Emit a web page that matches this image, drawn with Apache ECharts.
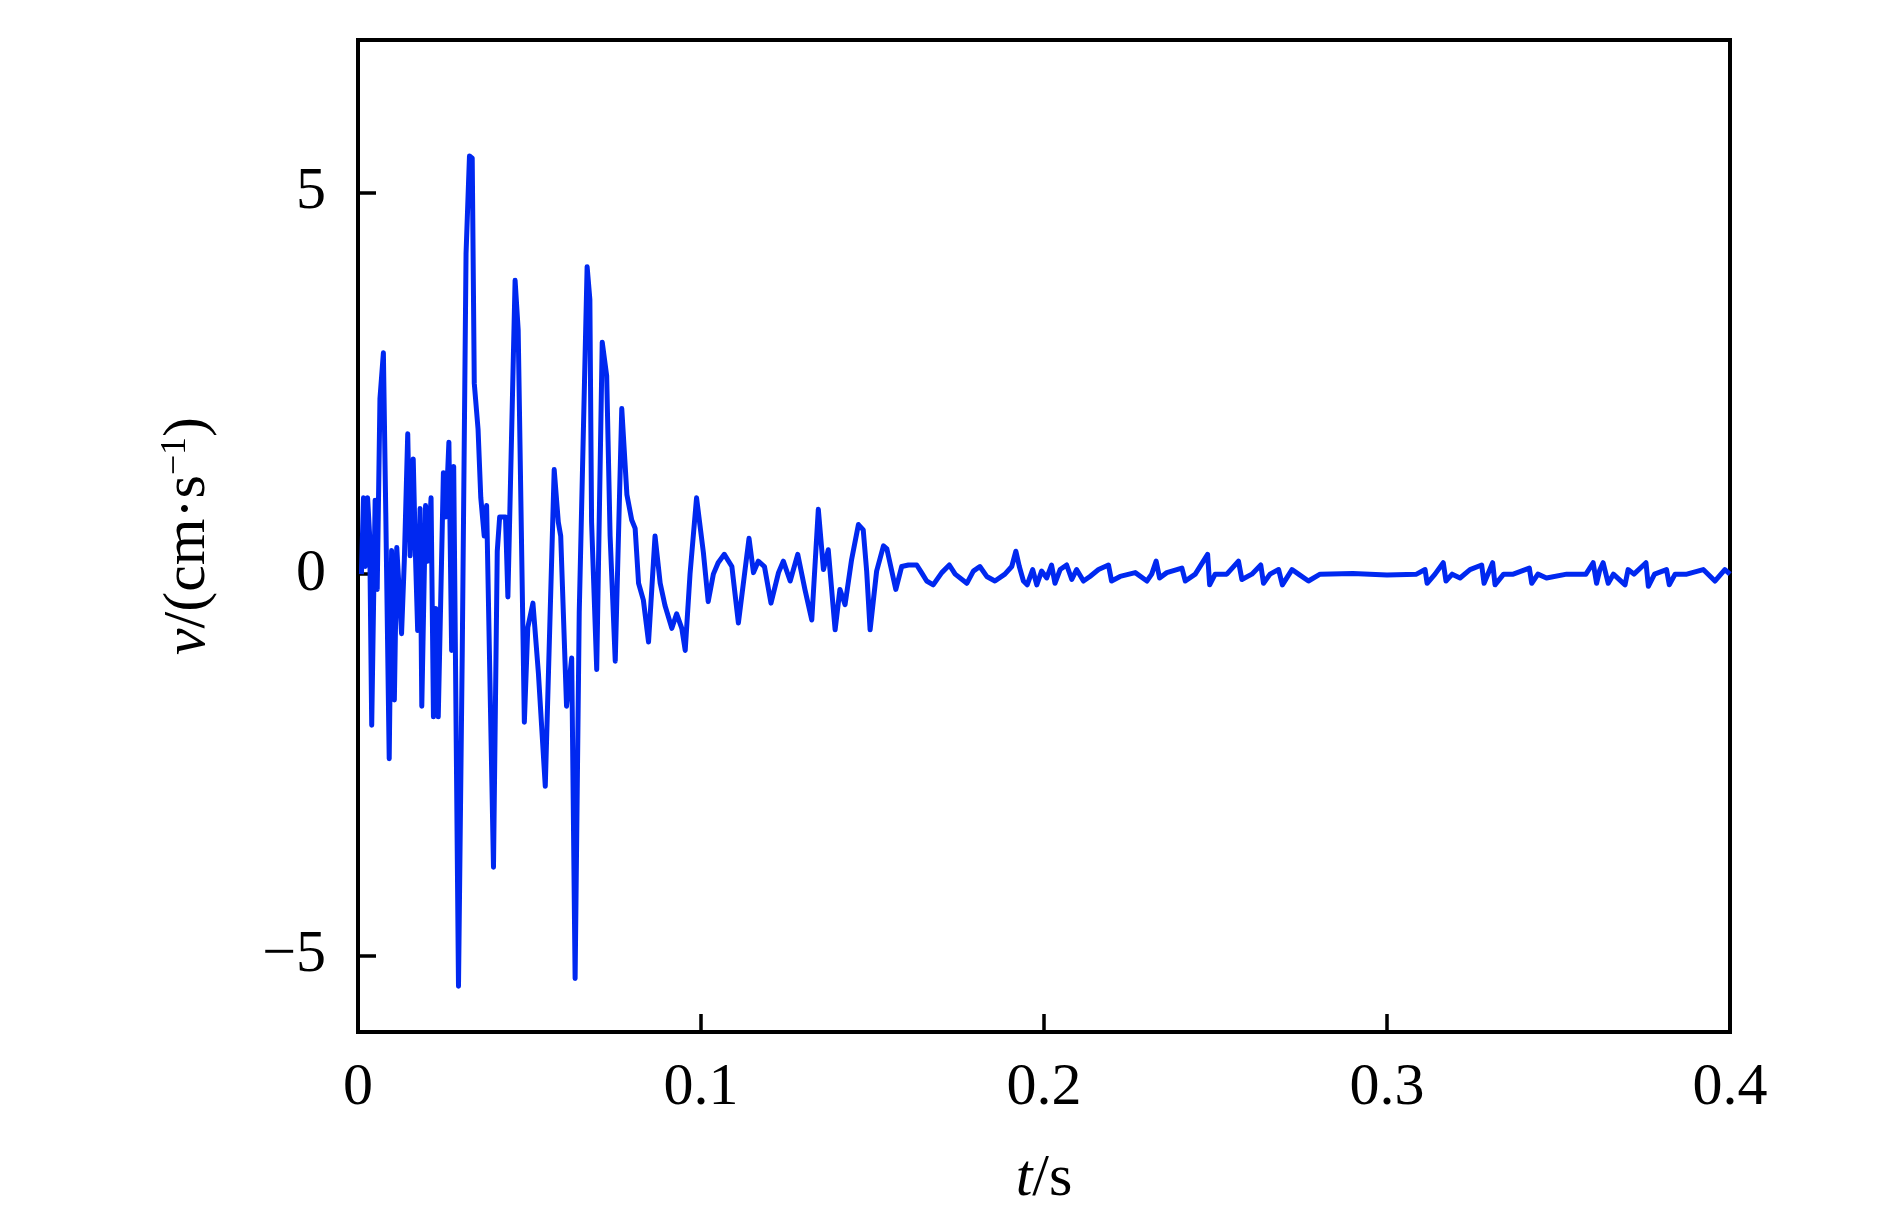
<!DOCTYPE html>
<html>
<head>
<meta charset="utf-8">
<script src="https://cdn.jsdelivr.net/npm/echarts@6/dist/echarts.min.js"></script>
<style>
html,body{margin:0;padding:0;background:#fff;}
#chart{width:1890px;height:1224px;}
</style>
</head>
<body>
<div id="chart"></div>
<script>
// time in milliseconds
const timeMs = [
1.0,1.6,2.1,2.8,3.4,4.0,5.0,5.6,6.4,7.4,8.1,9.1,9.8,10.6,11.3,12.7,13.5,14.5,15.2,16.1,16.8,17.4,18.1,18.6,19.7,20.3,21.3,22.0,22.7,23.4,24.9,25.6,26.5,27.3,27.9,29.3,30.4,31.5,32.5,33.3,33.9,35.0,35.8,36.8,37.5,39.5,40.6,41.3,43.0,43.7,45.8,46.7,48.5,49.5,51.0,52.6,54.6,57.2,58.4,59.1,60.8,62.3,63.3,64.5,66.8,67.6,68.1,69.6,71.2,72.5,73.5,75.0,76.9,78.4,79.8,80.8,81.8,83.2,84.7,86.6,88.1,89.5,91.5,92.9,94.4,95.4,96.8,98.7,100.7,102.1,103.6,105.0,106.8,109.0,110.9,114.0,115.3,116.7,118.5,120.4,122.6,124.0,126.0,128.2,130.3,132.3,134.2,135.7,137.1,139.1,140.5,142.0,143.9,145.9,147.3,148.3,149.3,151.2,153.2,154.2,156.8,158.5,160.5,162.9,164.3,165.8,167.7,170.2,172.4,174.1,177.5,179.4,181.3,183.3,185.7,188.6,190.6,191.8,192.8,194.0,195.1,196.7,197.9,199.3,200.8,202.2,203.2,204.7,206.6,208.1,209.5,211.5,213.4,215.9,218.8,219.7,222.2,226.6,230.0,231.4,232.7,233.7,235.8,240.2,241.2,244.1,247.7,248.3,249.9,253.3,256.7,257.7,260.6,263.2,264.0,265.9,268.4,269.5,272.3,274.2,277.1,280.5,290.0,300.0,308.6,311.1,311.7,314.0,316.4,317.2,319.0,321.3,324.2,327.6,328.3,330.8,331.5,334.0,336.8,341.5,342.2,344.0,346.5,352.4,358.0,360.1,361.1,362.0,363.0,364.5,366.0,369.4,370.3,372.0,375.5,376.2,378.0,381.5,382.3,384.0,387.4,392.2,395.6,398.5,400.0
];
// velocity in cm/s
const velocity = [
0.0,1.0,0.1,1.0,0.5,-1.98,0.97,-0.2,2.3,2.9,0.8,-2.42,0.31,-1.65,0.35,-0.78,0.17,1.84,0.24,1.51,0.17,-0.74,0.86,-1.73,0.9,0.17,1.0,-1.87,-0.45,-1.87,1.33,0.75,1.73,-1.0,1.41,-5.4,-1.0,4.2,5.48,5.45,2.5,1.9,1.0,0.5,0.9,-3.84,0.3,0.75,0.75,-0.3,3.85,3.2,-1.94,-0.7,-0.38,-1.3,-2.78,1.37,0.68,0.5,-1.73,-1.1,-5.3,-0.5,4.03,3.6,0.68,-1.25,3.04,2.6,0.5,-1.14,2.17,1.04,0.71,0.6,-0.12,-0.34,-0.89,0.5,-0.12,-0.41,-0.71,-0.52,-0.71,-1.0,0.0,1.0,0.28,-0.36,0.0,0.15,0.26,0.1,-0.64,0.47,0.02,0.17,0.1,-0.38,0.02,0.17,-0.09,0.26,-0.2,-0.6,0.85,0.06,0.32,-0.73,-0.2,-0.4,0.19,0.65,0.58,0.04,-0.73,0.04,0.37,0.33,-0.2,0.1,0.12,0.12,0.02,-0.09,-0.14,0.02,0.12,0.0,-0.12,0.04,0.1,-0.03,-0.09,0.0,0.1,0.3,0.1,-0.09,-0.14,0.06,-0.14,0.04,-0.05,0.12,-0.12,0.06,0.12,-0.07,0.06,-0.09,-0.03,0.06,0.12,-0.09,-0.03,0.02,-0.09,0.0,0.17,-0.05,0.02,0.08,-0.09,0.0,0.26,-0.14,0.0,0.0,0.17,-0.07,0.0,0.12,-0.12,0.0,0.06,-0.14,0.06,0.0,-0.09,0.0,0.01,-0.01,0.0,0.06,-0.12,0.0,0.15,-0.09,0.0,-0.05,0.06,0.12,-0.12,0.15,-0.14,0.0,0.0,0.08,-0.12,0.0,-0.05,0.0,0.0,0.15,-0.12,0.05,0.15,-0.12,0.0,-0.14,0.06,0.0,0.15,-0.16,0.0,0.06,-0.14,0.0,0.0,0.06,-0.09,0.06,0.0
];
const xTicks = [0, 0.1, 0.2, 0.3, 0.4];
const yTicks = [-5, 0, 5];

const FONT = '"Liberation Serif", "Times New Roman", serif';
const seriesData = timeMs.map((t, i) => [t / 1000, velocity[i]]);

const chart = echarts.init(document.getElementById('chart'), null, {renderer: 'canvas'});
chart.setOption({
  animation: false,
  backgroundColor: '#ffffff',
  grid: {left: 358, right: 160, top: 40, bottom: 192, show: true, borderColor: '#000', borderWidth: 4, backgroundColor: 'transparent'},
  xAxis: {
    type: 'value', min: 0, max: 0.4, interval: 0.1,
    name: '{it|t}/s', nameLocation: 'middle', nameGap: 117,
    nameTextStyle: {fontFamily: FONT, fontSize: 60, color: '#000',
      rich: {it: {fontFamily: FONT, fontSize: 60, fontStyle: 'italic', color: '#000'}}},
    axisLine: {show: true, onZero: false, lineStyle: {color: '#000', width: 4}},
    axisTick: {show: true, inside: true, length: 18, customValues: xTicks, lineStyle: {color: '#000', width: 3.5}},
    axisLabel: {show: true, margin: 26, fontFamily: FONT, fontSize: 60, color: '#000',
      customValues: xTicks, showMinLabel: true, showMaxLabel: true,
      formatter: v => (Math.abs(v) < 1e-9 ? '0' : v.toFixed(1))},
    splitLine: {show: false}
  },
  yAxis: {
    type: 'value', min: -6, max: 7,
    name: '{it|v}/(cm·s{sup|−1})', nameLocation: 'middle', nameGap: 140,
    nameTextStyle: {fontFamily: FONT, fontSize: 60, color: '#000',
      rich: {
        it: {fontFamily: FONT, fontSize: 60, fontStyle: 'italic', color: '#000'},
        sup: {fontFamily: FONT, fontSize: 36, color: '#000', verticalAlign: 'top'}
      }},
    axisLine: {show: true, onZero: false, lineStyle: {color: '#000', width: 4}},
    axisTick: {show: true, inside: true, length: 18, customValues: yTicks, lineStyle: {color: '#000', width: 3.5}},
    axisLabel: {show: true, margin: 32, fontFamily: FONT, fontSize: 60, color: '#000', customValues: yTicks,
      formatter: v => (v < 0 ? '\u2212' + Math.abs(v) : String(v))},
    splitLine: {show: false}
  },
  series: [{
    type: 'line', data: seriesData, showSymbol: false, smooth: false,
    lineStyle: {color: '#0028f0', width: 5, join: 'round'}, clip: true
  }]
});
</script>
</body>
</html>
